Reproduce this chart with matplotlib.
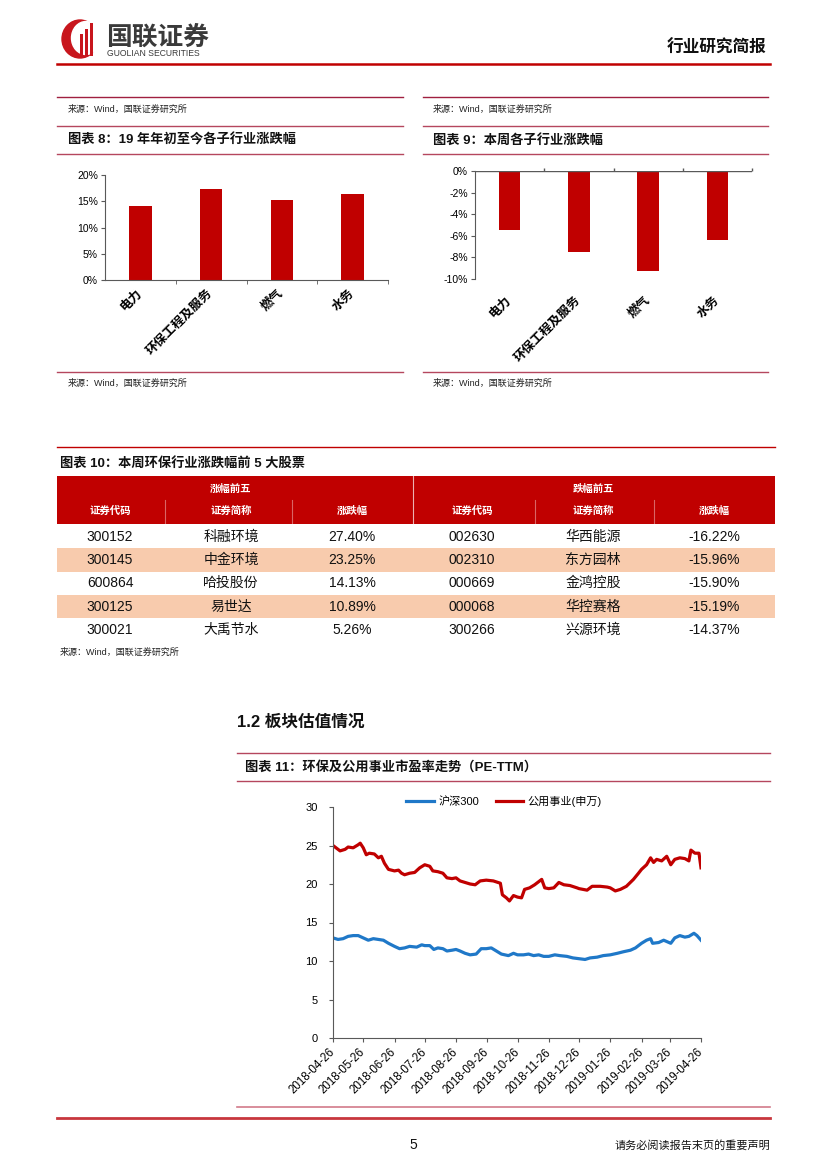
import numpy as np
import pandas as pd
import matplotlib
matplotlib.use('Agg')
import matplotlib.pyplot as plt
from matplotlib.lines import Line2D
from matplotlib.patches import Rectangle, Ellipse

plt.rcParams['font.family'] = ['Liberation Sans', 'Noto Sans CJK SC', 'DejaVu Sans']

W, H = 827, 1169

# ---- data ----
sectors = ['电力', '环保工程及服务', '燃气', '水务']
ytd_chg = [14.1, 17.4, 15.2, 16.4]      # 图表8 (%)
week_chg = [-5.5, -7.5, -9.3, -6.4]     # 图表9 (%)

group_titles = ['涨幅前五', '跌幅前五']
col_titles = ['证券代码', '证券简称', '涨跌幅', '证券代码', '证券简称', '涨跌幅']
gain_codes = ['300152', '300145', '600864', '300125', '300021']
gain_names = ['科融环境', '中金环境', '哈投股份', '易世达', '大禹节水']
gain_pct = ['27.40%', '23.25%', '14.13%', '10.89%', '5.26%']
loss_codes = ['002630', '002310', '000669', '000068', '300266']
loss_names = ['华西能源', '东方园林', '金鸿控股', '华控赛格', '兴源环境']
loss_pct = ['-16.22%', '-15.96%', '-15.90%', '-15.19%', '-14.37%']

pe_start = '2018-04-26'
# days since 2018-04-26, PE-TTM
hs300_days = [0, 5, 10, 15, 20, 25, 30, 35, 40, 45, 50, 55, 61, 66, 71, 76, 83, 88,
              91, 96, 100, 104, 109, 113, 118, 122, 126, 131, 136, 142, 147, 152, 157,
              162, 167, 174, 179, 183, 189, 194, 199, 204, 209, 214, 220, 225, 232, 238,
              244, 250, 255, 262, 268, 275, 282, 288, 295, 300, 306, 311, 315, 317, 323,
              328, 335, 339, 344, 349, 353, 358, 361, 365]
hs300_pe = [13.0, 12.8, 12.9, 13.2, 13.3, 13.3, 13.0, 12.7, 12.9, 12.8, 12.7, 12.3, 11.9,
            11.6, 11.7, 11.9, 11.8, 12.1, 12.0, 12.0, 11.5, 11.7, 11.6, 11.3, 11.4, 11.5,
            11.3, 11.0, 10.8, 10.9, 11.6, 11.6, 11.7, 11.3, 10.9, 10.7, 11.0, 10.8, 10.8,
            10.9, 10.7, 10.8, 10.6, 10.6, 10.8, 10.7, 10.6, 10.4, 10.3, 10.2, 10.4, 10.5,
            10.7, 10.8, 11.0, 11.2, 11.4, 11.7, 12.3, 12.7, 12.9, 12.3, 12.4, 12.7, 12.3,
            13.0, 13.3, 13.1, 13.2, 13.6, 13.3, 12.7]
util_days = [0, 3, 7, 12, 15, 20, 25, 27, 30, 33, 36, 41, 45, 48, 51, 55, 61, 65, 68, 71,
             76, 81, 86, 91, 96, 99, 104, 109, 113, 118, 122, 126, 131, 136, 141, 146, 152,
             159, 166, 168, 172, 175, 179, 183, 187, 190, 195, 200, 207, 210, 214, 219, 224,
             229, 235, 242, 244, 252, 257, 265, 272, 275, 280, 285, 291, 298, 303, 306, 311,
             315, 318, 321, 326, 331, 335, 339, 344, 349, 353, 355, 359, 363, 365]
util_pe = [25.0, 24.7, 24.3, 24.5, 24.8, 24.7, 25.1, 25.3, 24.7, 23.8, 24.0, 23.9, 23.4,
           23.6, 22.7, 21.9, 21.7, 21.8, 21.4, 21.2, 21.4, 21.5, 22.1, 22.5, 22.3, 21.7,
           21.6, 21.4, 20.8, 20.7, 20.8, 20.4, 20.2, 20.0, 19.9, 20.4, 20.5, 20.4, 20.1,
           18.6, 18.2, 17.8, 18.5, 18.3, 18.2, 19.3, 19.5, 19.9, 20.6, 19.5, 19.4, 19.5,
           20.2, 19.9, 19.8, 19.5, 19.4, 19.2, 19.7, 19.7, 19.6, 19.5, 19.1, 19.3, 19.7,
           20.6, 21.4, 21.9, 22.5, 23.4, 22.8, 23.2, 23.0, 23.6, 22.5, 23.2, 23.4, 23.3,
           23.0, 24.4, 24.0, 24.0, 22.1]

RED = '#C00000'
LINE = '#B5475E'
GREY = '#595959'

fig = plt.figure(figsize=(W / 100, H / 100), dpi=100)


def fx(x):
    return x / W


def fy(y):
    return 1 - y / H


def hline(y, x0, x1, color=LINE, lw=1.0):
    fig.add_artist(Line2D([fx(x0), fx(x1)], [fy(y), fy(y)], color=color, lw=lw))


def vline(x, y0, y1, color='white', lw=0.8, alpha=1.0):
    fig.add_artist(Line2D([fx(x), fx(x)], [fy(y0), fy(y1)], color=color, lw=lw, alpha=alpha))


def text(x, y, s, **kw):
    kw.setdefault('va', 'center')
    fig.text(fx(x), fy(y), s, **kw)


def box(x0, y0, x1, y1, color):
    fig.add_artist(Rectangle((fx(x0), fy(y1)), (x1 - x0) / W, (y1 - y0) / H,
                             color=color, lw=0, transform=fig.transFigure))


# ---- page header ----
fig.add_artist(Ellipse((fx(80), fy(39)), 36 / W, 38 / H, color='#C8161D', transform=fig.transFigure))
fig.add_artist(Ellipse((fx(86), fy(38)), 29 / W, 33 / H, color='white', transform=fig.transFigure))
for bx, top in [(80, 34), (85, 29), (90, 23)]:
    box(bx, top, bx + 3, 56, '#C8161D')
text(106, 38, '国联证券', fontsize=18.5, fontweight='bold', color='#3A3A3A')
text(107, 54, 'GUOLIAN SECURITIES', fontsize=6.2, color='#3A3A3A')
text(766, 48, '行业研究简报', fontsize=12, fontweight='bold', ha='right', color='#111111')
hline(64, 57, 770, '#C00000', 1.8)

src = '来源：Wind，国联证券研究所'

# ---- chart 8 / chart 9 frames ----
for x0, x1, tx, title in [(57, 403, 68, '图表 8：19 年年初至今各子行业涨跌幅'),
                           (423, 768, 433, '图表 9：本周各子行业涨跌幅')]:
    hline(97, x0, x1, '#A02040', 1.0)
    text(tx, 109, src, fontsize=6.5, color='#222222')
    hline(126, x0, x1)
    text(tx, 140, title, fontsize=9.5, fontweight='bold', color='#111111')
    hline(154, x0, x1)
    hline(372, x0, x1)
    text(tx, 383, src, fontsize=6.5, color='#222222')

pos = np.arange(len(sectors))

ax8 = fig.add_axes([fx(105), fy(280), (388 - 105) / W, (280 - 175) / H])
ax8.bar(pos, ytd_chg, width=0.32, color=RED)
ax8.set_xlim(-0.5, 3.5)
ax8.set_ylim(0, 20)
ax8.set_yticks([0, 5, 10, 15, 20])
ax8.yaxis.set_major_formatter(lambda v, p: f'{v:.0f}%')
ax8.set_xticks(pos)
ax8.set_xticklabels(sectors, rotation=45, ha='right', va='center', rotation_mode='anchor',
                    fontweight='bold', fontsize=9)
ax8.set_xticks([0.5, 1.5, 2.5, 3.5], minor=True)
ax8.tick_params(axis='x', which='major', length=0, pad=8)
ax8.tick_params(axis='x', which='minor', length=3, color=GREY)
ax8.tick_params(axis='y', labelsize=7.5, length=3, color=GREY, pad=2)
for s in ['top', 'right']:
    ax8.spines[s].set_visible(False)
for s in ['left', 'bottom']:
    ax8.spines[s].set_color(GREY)

ax9 = fig.add_axes([fx(475), fy(279), (752 - 475) / W, (279 - 171) / H])
ax9.bar(pos, week_chg, width=0.31, color=RED)
ax9.set_xlim(-0.5, 3.5)
ax9.set_ylim(-10, 0)
ax9.set_yticks([0, -2, -4, -6, -8, -10])
ax9.yaxis.set_major_formatter(lambda v, p: f'{v:.0f}%')
ax9.set_xticks(pos)
ax9.set_xticklabels(sectors, rotation=45, ha='right', va='center', rotation_mode='anchor',
                    fontweight='bold', fontsize=9)
ax9.tick_params(axis='x', length=0, pad=14)
ax9.tick_params(axis='y', labelsize=7.5, length=3, color=GREY, pad=2)
ax9.axhline(0, color=GREY, lw=1.0)
ax9.vlines([0.5, 1.5, 2.5, 3.5], 0, 0.28, color=GREY, lw=1.0, clip_on=False)
for s in ['top', 'right', 'bottom']:
    ax9.spines[s].set_visible(False)
ax9.spines['left'].set_color(GREY)

# ---- table (图表10) ----
hline(447, 57, 775, '#C00000', 1.0)
text(60, 463, '图表 10：本周环保行业涨跌幅前 5 大股票', fontsize=9.5, fontweight='bold', color='#111111')
box(57, 476, 775, 524, '#C00000')
col_x = [110, 231, 352, 472, 593, 714]
text(231, 489, group_titles[0], fontsize=7.5, fontweight='bold', color='white', ha='center')
text(593, 489, group_titles[1], fontsize=7.5, fontweight='bold', color='white', ha='center')
for cx, ct in zip(col_x, col_titles):
    text(cx, 511, ct, fontsize=7.5, fontweight='bold', color='white', ha='center')
vline(413, 476, 524, alpha=0.7)
for vx in [165, 292, 535, 654]:
    vline(vx, 500, 524, alpha=0.4)

row_top, row_h = 525, 23.3
for i in range(5):
    y0 = row_top + i * row_h
    if i % 2 == 1:
        box(57, y0, 775, y0 + row_h, '#F8CBAD')
    yc = y0 + row_h / 2
    cells = [gain_codes[i], gain_names[i], gain_pct[i], loss_codes[i], loss_names[i], loss_pct[i]]
    for cx, c in zip(col_x, cells):
        text(cx, yc, c, fontsize=10, color='#111111', ha='center')
text(60, 652, src, fontsize=6.5, color='#222222')

# ---- section 1.2 / chart 11 ----
text(237, 722, '1.2 板块估值情况', fontsize=12, fontweight='bold', color='#111111')
hline(753, 237, 770)
text(245, 767, '图表 11：环保及公用事业市盈率走势（PE-TTM）', fontsize=9.5, fontweight='bold', color='#111111')
hline(781, 237, 770)

t0 = pd.Timestamp(pe_start)
hs_dates = t0 + pd.to_timedelta(hs300_days, unit='D')
ut_dates = t0 + pd.to_timedelta(util_days, unit='D')

ax11 = fig.add_axes([fx(333), fy(1038), (701 - 333) / W, (1038 - 807) / H])
ax11.plot(hs_dates, hs300_pe, color='#1F78C8', lw=2.3, label='沪深300')
ax11.plot(ut_dates, util_pe, color=RED, lw=2.3, label='公用事业(申万)')
ax11.set_xlim(t0, t0 + pd.Timedelta(days=365))
ax11.set_ylim(0, 30)
ax11.set_yticks([0, 5, 10, 15, 20, 25, 30])
ticks = pd.date_range(pe_start, '2019-04-26', freq=pd.DateOffset(months=1))
ax11.set_xticks(ticks)
ax11.set_xticklabels([t.strftime('%Y-%m-%d') for t in ticks], rotation=45, ha='right',
                     va='center', rotation_mode='anchor', fontsize=8.3)
ax11.tick_params(axis='x', length=3, color=GREY, pad=6)
ax11.tick_params(axis='y', labelsize=8, length=3, color=GREY, pad=8)
for s in ['top', 'right']:
    ax11.spines[s].set_visible(False)
for s in ['left', 'bottom']:
    ax11.spines[s].set_color(GREY)
ax11.legend(loc='center', bbox_to_anchor=(0.465, 1.025), ncol=2, frameon=False, fontsize=8,
            handlelength=2.5, columnspacing=1.5, handletextpad=0.4)

# ---- footer ----
hline(1107, 237, 770, '#D27A8A', 1.2)
hline(1118, 57, 770, '#C8373D', 2.0)
text(413, 1145, '5', fontsize=10, ha='center', color='#111111')
text(770, 1145, '请务必阅读报告末页的重要声明', fontsize=8, ha='right', color='#111111')

fig.savefig('out.png', dpi=100)
